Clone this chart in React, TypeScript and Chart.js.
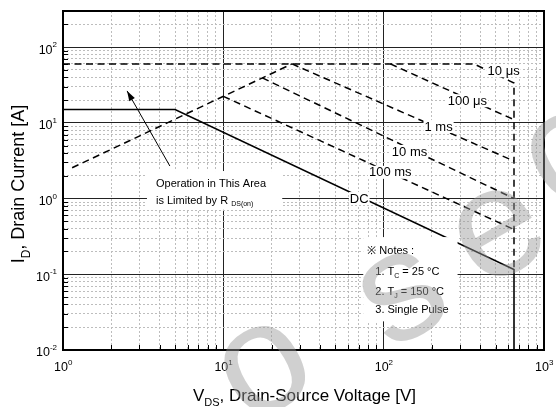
import React, { useEffect, useRef } from 'react';
import { Chart, registerables } from 'chart.js';

Chart.register(...registerables);

const FONT = '"Liberation Sans", Arial, Helvetica, sans-serif';

// Axis ranges and decade tick exponents
const xRange = [1, 1000];
const yRange = [0.01, 300];
const xTickExps = [0, 1, 2, 3];
const yTickExps = [-2, -1, 0, 1, 2];

// Safe operating area boundaries (V_DS [V], I_D [A])
const dcLine = [{ x: 1, y: 15 }, { x: 5, y: 15 }, { x: 650, y: 0.1154 }, { x: 650, y: 0.01 }];
const rdsOnLine = [{ x: 1.14, y: 2.55 }, { x: 26.8, y: 60 }];
const pulse10us = [{ x: 1, y: 60 }, { x: 365, y: 60 }, { x: 650, y: 33.6 }, { x: 650, y: 0.1154 }];
const pulse100us = [{ x: 110, y: 60 }, { x: 650, y: 11 }];
const pulse1ms = [{ x: 26.8, y: 60 }, { x: 650, y: 3.13 }];
const pulse10ms = [{ x: 17.5, y: 39.2 }, { x: 650, y: 1.0 }];
const pulse100ms = [{ x: 10, y: 22.4 }, { x: 650, y: 0.39 }];

// Curve labels (placed in data coordinates)
const curveLabels = ['10 μs', '100 μs', '1 ms', '10 ms', '100 ms', 'DC'];
const curveLabelX = [560, 333, 220, 145, 110, 70.4];
const curveLabelY = [48.7, 19.6, 8.93, 4.19, 2.22, 1.0];

// Annotation boxes (data coordinates: x1, x2, y1, y2)
const rdsBox = [3.34, 23.3, 2.31, 0.71];
const notesBox = [74.6, 289, 0.31, 0.0239];
const arrowFrom = [4.64, 2.69];
const arrowTo = [2.51, 26.4];

type Part = { t: string; sub?: boolean; sup?: boolean };
const rdsText: Part[][] = [
  [{ t: 'Operation in This Area' }],
  [{ t: 'is Limited by R ' }, { t: 'DS(on)', sub: true }],
];
const notesText: Part[][] = [
  [{ t: '※ Notes :' }],
  [{ t: '1. T' }, { t: 'C', sub: true }, { t: ' = 25 °C' }],
  [{ t: '2. T' }, { t: 'J', sub: true }, { t: ' = 150 °C' }],
  [{ t: '3. Single Pulse' }],
];
const xTitle: Part[] = [{ t: 'V' }, { t: 'DS', sub: true }, { t: ', Drain-Source Voltage [V]' }];
const yTitle: Part[] = [{ t: 'I' }, { t: 'D', sub: true }, { t: ', Drain Current [A]' }];

const watermarkLetters = ['o', 's', 'e', 'c'];

function drawRich(ctx: CanvasRenderingContext2D, parts: Part[], x: number, y: number, size: number, align: 'left' | 'center' | 'right' = 'left', smallRatio = 0.65) {
  const small = Math.round(size * smallRatio);
  const widths = parts.map((p) => {
    ctx.font = `${p.sub || p.sup ? small : size}px ${FONT}`;
    return ctx.measureText(p.t).width;
  });
  const total = widths.reduce((a, b) => a + b, 0);
  let cx = align === 'center' ? x - total / 2 : align === 'right' ? x - total : x;
  ctx.textAlign = 'left';
  parts.forEach((p, i) => {
    ctx.font = `${p.sub || p.sup ? small : size}px ${FONT}`;
    const dy = p.sub ? size * 0.32 : p.sup ? -size * 0.42 : 0;
    ctx.fillText(p.t, cx, y + dy);
    cx += widths[i];
  });
  return total;
}

export default function App() {
  const ref = useRef<HTMLCanvasElement>(null);
  useEffect(() => {
    const canvas = ref.current!;
    const isMajor = (v: number) => {
      const l = Math.log10(v);
      return Math.abs(l - Math.round(l)) < 1e-6;
    };
    const intMant = (v: number) => {
      const e = Math.floor(Math.log10(v) + 1e-9);
      const m = v / Math.pow(10, e);
      return Math.abs(m - Math.round(m)) < 1e-6;
    };
    const gridColor = (c: any) => (c.tick && isMajor(c.tick.value) ? '#222' : '#bdbdbd');
    const gridDash = (c: any) => (c.tick && !isMajor(c.tick.value) ? [2, 2] : []);

    const decor = {
      id: 'soaDecor',
      afterDraw(chart: any) {
        const ctx: CanvasRenderingContext2D = chart.ctx;
        const xs = chart.scales.x;
        const ys = chart.scales.y;
        const a = chart.chartArea;
        const px = (v: number) => xs.getPixelForValue(v);
        const py = (v: number) => ys.getPixelForValue(v);
        ctx.save();
        ctx.fillStyle = '#000';
        ctx.strokeStyle = '#000';

        // inward minor tick marks
        ctx.lineWidth = 1;
        ctx.beginPath();
        ys.ticks.forEach((t: any) => {
          if (isMajor(t.value)) return;
          const y = Math.round(py(t.value)) + 0.5;
          ctx.moveTo(a.left, y);
          ctx.lineTo(a.left + 5, y);
        });
        xs.ticks.forEach((t: any) => {
          if (isMajor(t.value)) return;
          const x = Math.round(px(t.value)) + 0.5;
          ctx.moveTo(x, a.bottom);
          ctx.lineTo(x, a.bottom - 5);
        });
        ctx.stroke();

        // arrow
        const ax1 = px(arrowFrom[0]), ay1 = py(arrowFrom[1]);
        const ax2 = px(arrowTo[0]), ay2 = py(arrowTo[1]);
        ctx.lineWidth = 1;
        ctx.beginPath();
        ctx.moveTo(ax1, ay1);
        ctx.lineTo(ax2, ay2);
        ctx.stroke();
        const ang = Math.atan2(ay2 - ay1, ax2 - ax1);
        const hl = 10, hw = 3.2;
        ctx.beginPath();
        ctx.moveTo(ax2, ay2);
        ctx.lineTo(ax2 - hl * Math.cos(ang) + hw * Math.sin(ang), ay2 - hl * Math.sin(ang) - hw * Math.cos(ang));
        ctx.lineTo(ax2 - hl * Math.cos(ang) - hw * Math.sin(ang), ay2 - hl * Math.sin(ang) + hw * Math.cos(ang));
        ctx.closePath();
        ctx.fill();

        // R_DS(on) box
        {
          const bx1 = px(rdsBox[0]), bx2 = px(rdsBox[1]), by1 = py(rdsBox[2]), by2 = py(rdsBox[3]);
          ctx.fillStyle = '#fff';
          ctx.fillRect(bx1, by1, bx2 - bx1, by2 - by1);
          ctx.fillStyle = '#000';
          ctx.textBaseline = 'middle';
          drawRich(ctx, rdsText[0], bx1 + 9, by1 + 12.5, 11);
          drawRich(ctx, rdsText[1], bx1 + 9, by1 + 30, 11);
        }

        // Notes box
        {
          const bx1 = px(notesBox[0]), bx2 = px(notesBox[1]), by1 = py(notesBox[2]), by2 = py(notesBox[3]);
          ctx.fillStyle = '#fff';
          ctx.fillRect(bx1, by1, bx2 - bx1, by2 - by1);
          ctx.fillStyle = '#000';
          ctx.textBaseline = 'middle';
          drawRich(ctx, notesText[0], bx1 + 4, by1 + 14, 11);
          drawRich(ctx, notesText[1], bx1 + 12, by1 + 35, 11);
          drawRich(ctx, notesText[2], bx1 + 12, by1 + 55, 11);
          drawRich(ctx, notesText[3], bx1 + 12, by1 + 73, 11);
        }

        // curve labels with white background
        ctx.textBaseline = 'middle';
        curveLabels.forEach((lab, i) => {
          const cx = px(curveLabelX[i]);
          const cy = py(curveLabelY[i]);
          ctx.font = `13px ${FONT}`;
          const w = ctx.measureText(lab).width;
          ctx.fillStyle = '#fff';
          ctx.fillRect(cx - w / 2 - 1, cy - 6.5, w + 2, 13);
          ctx.fillStyle = '#000';
          ctx.textAlign = 'center';
          ctx.fillText(lab, cx, cy + 0.5);
        });

        // frame
        ctx.lineWidth = 2;
        ctx.strokeStyle = '#000';
        ctx.strokeRect(a.left, a.top, a.right - a.left, a.bottom - a.top);

        // tick labels
        ctx.fillStyle = '#000';
        ctx.textBaseline = 'middle';
        yTickExps.forEach((e) => {
          const y = py(Math.pow(10, e)) + 3;
          drawRich(ctx, [{ t: '10' }, { t: String(e), sup: true }], a.left - 6, y, 12.5, 'right');
        });
        xTickExps.forEach((e) => {
          const x = px(Math.pow(10, e));
          ctx.font = `12.5px ${FONT}`;
          const w10 = ctx.measureText('10').width;
          drawRich(ctx, [{ t: '10' }, { t: String(e), sup: true }], x - 2 - w10 / 2, a.bottom + 18, 12.5, 'left');
        });

        // axis titles
        ctx.textBaseline = 'alphabetic';
        drawRich(ctx, xTitle, (a.left + a.right) / 2 + 1, a.bottom + 51, 17, 'center');
        ctx.save();
        ctx.translate(24, (a.top + a.bottom) / 2 + 3.5);
        ctx.rotate(-Math.PI / 2);
        drawRich(ctx, yTitle, 0, 0, 18, 'center');
        ctx.restore();

        // watermark
        const wmPos = [[265, 370], [403, 297], [499, 234], [568, 158]];
        const wmSize = 156;
        ctx.fillStyle = 'rgba(150,150,150,0.45)';
        ctx.font = `${wmSize}px ${FONT}`;
        ctx.textAlign = 'center';
        ctx.textBaseline = 'alphabetic';
        watermarkLetters.forEach((ch, i) => {
          ctx.save();
          ctx.translate(wmPos[i][0], wmPos[i][1]);
          ctx.rotate(-Math.PI / 6);
          ctx.fillText(ch, 0, wmSize * 0.26);
          ctx.restore();
        });

        ctx.restore();
      },
    };

    const solid = { borderColor: '#000', borderWidth: 1.6, pointRadius: 0, showLine: true, fill: false };
    const dashed = { borderColor: '#000', borderWidth: 1.5, borderDash: [7, 4.5], pointRadius: 0, showLine: true, fill: false };

    const chart = new Chart(canvas, {
      type: 'scatter',
      data: {
        datasets: [
          { label: 'DC', data: dcLine, ...solid },
          { label: 'RDS(on) limit', data: rdsOnLine, ...dashed },
          { label: '10 μs', data: pulse10us, ...dashed },
          { label: '100 μs', data: pulse100us, ...dashed },
          { label: '1 ms', data: pulse1ms, ...dashed },
          { label: '10 ms', data: pulse10ms, ...dashed },
          { label: '100 ms', data: pulse100ms, ...dashed },
        ] as any,
      },
      options: {
        animation: false,
        responsive: true,
        maintainAspectRatio: false,
        layout: { padding: { left: 63, right: 12, top: 11, bottom: 57 } },
        plugins: { legend: { display: false }, tooltip: { enabled: false } },
        scales: {
          x: {
            type: 'logarithmic',
            min: xRange[0],
            max: xRange[1],
            afterBuildTicks: (s: any) => { s.ticks = s.ticks.filter((t: any) => intMant(t.value)); },
            ticks: { display: false },
            grid: { drawTicks: false, color: gridColor, lineWidth: 1 },
            border: { display: false, dash: gridDash },
          },
          y: {
            type: 'logarithmic',
            min: yRange[0],
            max: yRange[1],
            afterBuildTicks: (s: any) => { s.ticks = s.ticks.filter((t: any) => intMant(t.value)); },
            ticks: { display: false },
            grid: { drawTicks: false, color: gridColor, lineWidth: 1 },
            border: { display: false, dash: gridDash },
          },
        } as any,
      },
      plugins: [decor],
    });
    return () => chart.destroy();
  }, []);
  return (
    <div style={{ position: 'fixed', left: 0, top: 0, width: 556, height: 407, background: '#fff' }}>
      <canvas ref={ref} />
    </div>
  );
}
